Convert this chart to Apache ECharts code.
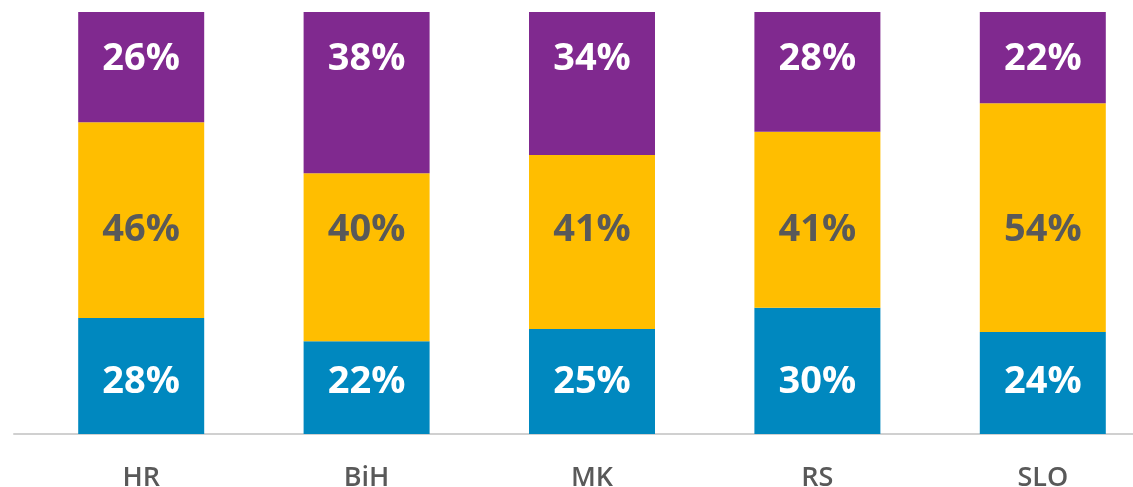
<!DOCTYPE html>
<html>
<head>
<meta charset="utf-8">
<script src="https://cdn.jsdelivr.net/npm/echarts@6/dist/echarts.min.js"></script>
<style>
html,body{margin:0;padding:0;background:#fff;}
#main{width:1133px;height:487px;}
</style>
</head>
<body>
<div id="main"></div>
<script>
// Data
const categories = ['HR', 'BiH', 'MK', 'RS', 'SLO'];
const blueValues   = [27.5, 22.0, 24.9, 29.9, 24.2];
const yellowValues = [46.4, 39.8, 41.2, 41.7, 54.2];
const purpleValues = [26.1, 38.2, 33.9, 28.4, 21.6];
const blueLabels   = ['28%', '22%', '25%', '30%', '24%'];
const yellowLabels = ['46%', '40%', '41%', '41%', '54%'];
const purpleLabels = ['26%', '38%', '34%', '28%', '22%'];

const COLORS = { blue: '#0088BF', yellow: '#FFBE00', purple: '#80298F' };
const FONT = '"Open Sans", "Liberation Sans", sans-serif';
// value levels (on the 0-100 axis) at which the labels of each band sit
const LEVEL = { blue: 12.2, yellow: 48.2, purple: 88.8 };

function barSeries(name, values, color) {
  return {
    name: name, type: 'bar', stack: 'total', data: values,
    barWidth: 126, itemStyle: { color: color }, silent: true,
    xAxisIndex: 0, yAxisIndex: 0
  };
}
function labelSeries(level, texts, color) {
  return {
    type: 'scatter', xAxisIndex: 0, yAxisIndex: 0, silent: true,
    symbolSize: 1, itemStyle: { color: 'rgba(0,0,0,0)', opacity: 1 }, z: 10,
    data: categories.map(function (c) { return [c, level]; }),
    label: {
      show: true, position: 'inside', opacity: 1,
      formatter: function (p) { return texts[p.dataIndex]; },
      color: color, fontFamily: FONT, fontWeight: 'bold', fontSize: 38
    }
  };
}

const chart = echarts.init(document.getElementById('main'), null, { renderer: 'canvas' });
chart.setOption({
  animation: false,
  backgroundColor: '#ffffff',
  grid: [
    { left: 28.5, width: 1127, top: 12, bottom: 53, outerBoundsMode: 'none', containLabel: false },
    { left: 14, right: 0, top: 12, bottom: 53, outerBoundsMode: 'none', containLabel: false }
  ],
  xAxis: [
    {
      type: 'category', data: categories, gridIndex: 0,
      axisLine: { show: false }, axisTick: { show: false },
      axisLabel: { color: '#595959', fontFamily: FONT, fontWeight: 600, fontSize: 27, margin: 31 }
    },
    {
      type: 'value', gridIndex: 1, min: 0, max: 1,
      axisLine: { show: true, onZero: false, lineStyle: { color: '#d0d0d0', width: 2 } },
      axisTick: { show: false }, axisLabel: { show: false }, splitLine: { show: false }
    }
  ],
  yAxis: [
    { type: 'value', gridIndex: 0, min: 0, max: 100, show: false },
    { type: 'value', gridIndex: 1, min: 0, max: 1, show: false }
  ],
  series: [
    barSeries('Blue', blueValues, COLORS.blue),
    barSeries('Yellow', yellowValues, COLORS.yellow),
    barSeries('Purple', purpleValues, COLORS.purple),
    labelSeries(LEVEL.blue, blueLabels, '#ffffff'),
    labelSeries(LEVEL.yellow, yellowLabels, '#595959'),
    labelSeries(LEVEL.purple, purpleLabels, '#ffffff')
  ]
});
</script>
</body>
</html>
